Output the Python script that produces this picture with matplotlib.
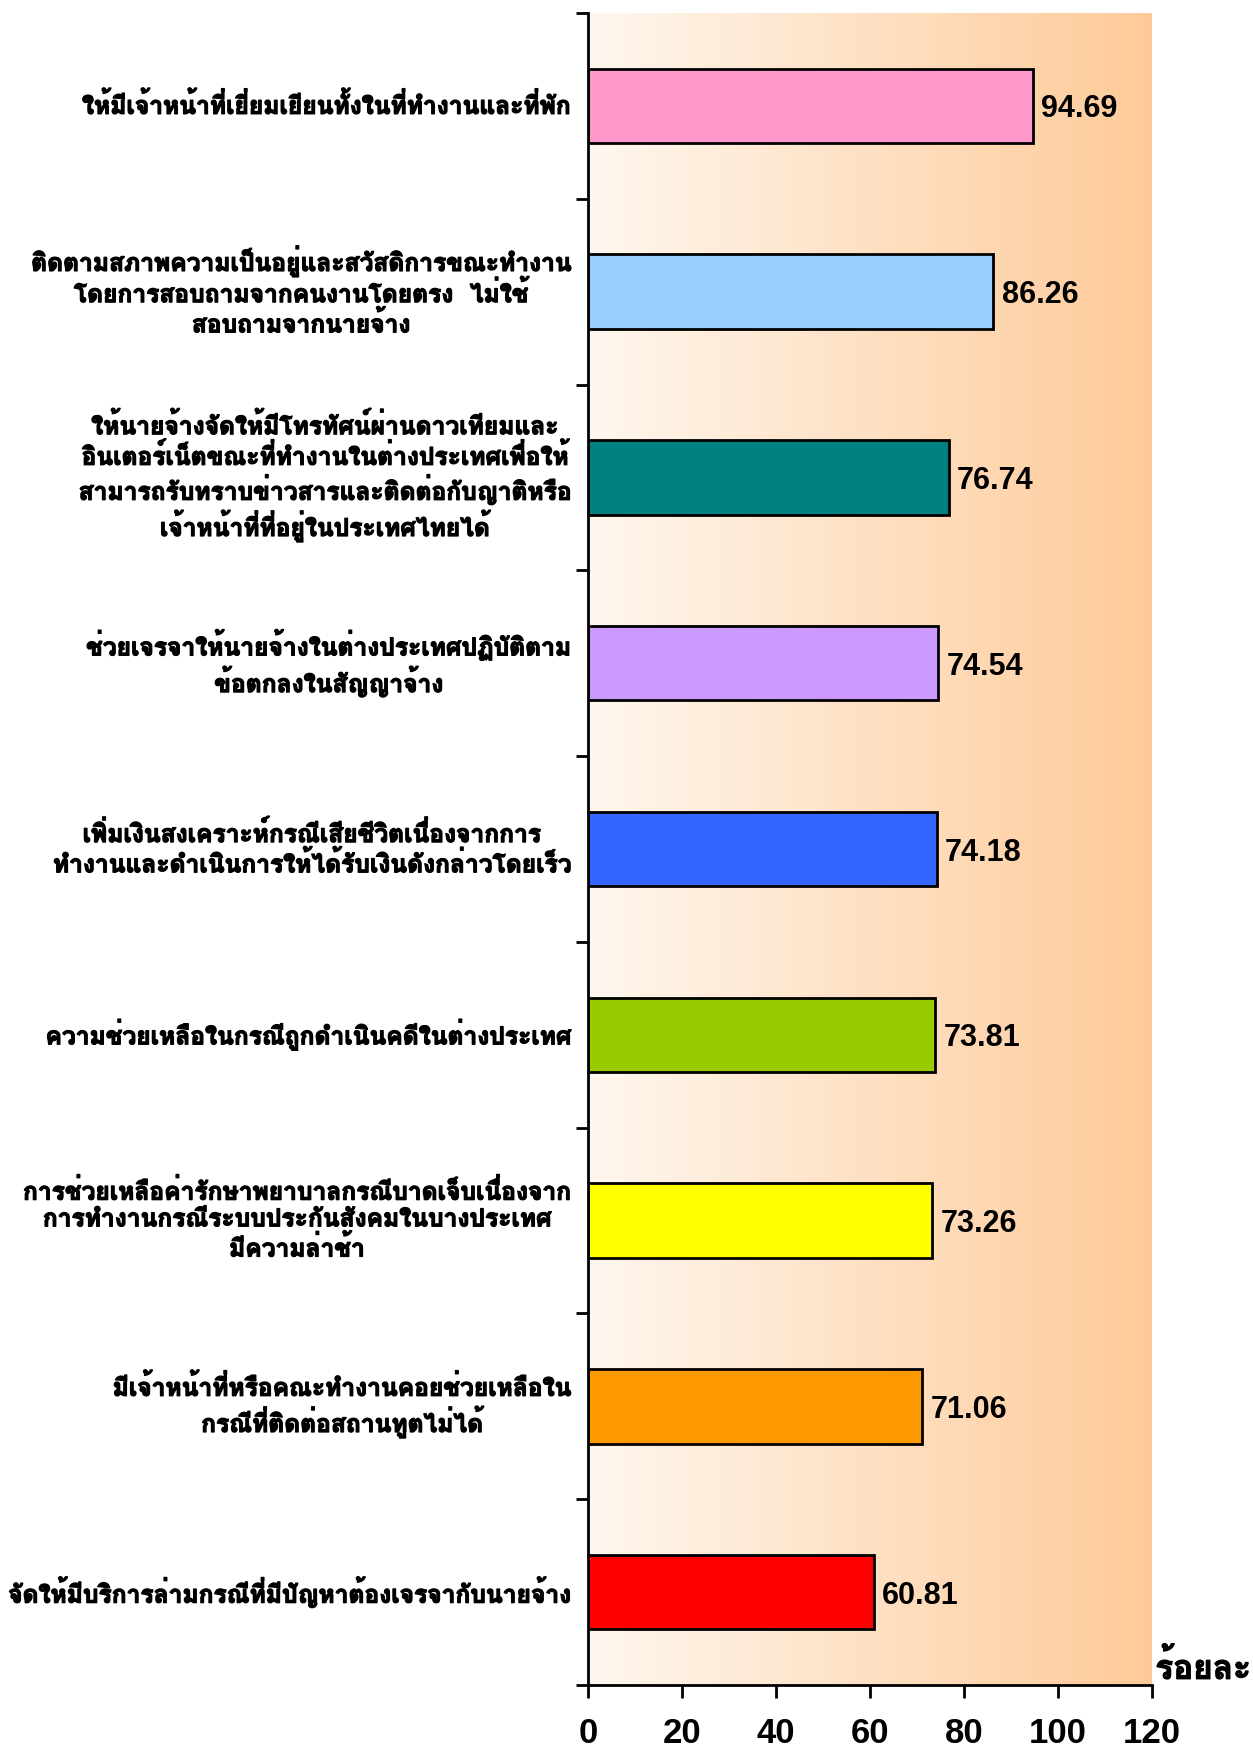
import numpy as np
import matplotlib
matplotlib.use("Agg")
import matplotlib.pyplot as plt
import matplotlib.patheffects as pe

categories = [
    "ให้มีเจ้าหน้าที่เยี่ยมเยียนทั้งในที่ทำงานและที่พัก",
    "ติดตามสภาพความเป็นอยู่และสวัสดิการขณะทำงาน\nโดยการสอบถามจากคนงานโดยตรง  ไม่ใช้\nสอบถามจากนายจ้าง",
    "ให้นายจ้างจัดให้มีโทรทัศน์ผ่านดาวเทียมและ\nอินเตอร์เน็ตขณะที่ทำงานในต่างประเทศเพื่อให้\nสามารถรับทราบข่าวสารและติดต่อกับญาติหรือ\nเจ้าหน้าที่ที่อยู่ในประเทศไทยได้",
    "ช่วยเจรจาให้นายจ้างในต่างประเทศปฏิบัติตาม\nข้อตกลงในสัญญาจ้าง",
    "เพิ่มเงินสงเคราะห์กรณีเสียชีวิตเนื่องจากการ\nทำงานและดำเนินการให้ได้รับเงินดังกล่าวโดยเร็ว",
    "ความช่วยเหลือในกรณีถูกดำเนินคดีในต่างประเทศ",
    "การช่วยเหลือค่ารักษาพยาบาลกรณีบาดเจ็บเนื่องจาก\nการทำงานกรณีระบบประกันสังคมในบางประเทศ\nมีความล่าช้า",
    "มีเจ้าหน้าที่หรือคณะทำงานคอยช่วยเหลือใน\nกรณีที่ติดต่อสถานทูตไม่ได้",
    "จัดให้มีบริการล่ามกรณีที่มีปัญหาต้องเจรจากับนายจ้าง",
]
values = [94.69, 86.26, 76.74, 74.54, 74.18, 73.81, 73.26, 71.06, 60.81]
bar_colors = ["#FF99CC", "#99CCFF", "#008080", "#CC99FF", "#3366FF",
              "#99CC00", "#FFFF00", "#FF9900", "#FF0000"]
x_ticks = [0, 20, 40, 60, 80, 100, 120]
unit_label = "ร้อยละ"

thai_family = ["Loma", "Sarabun", "DejaVu Sans"]
num_family = ["Liberation Sans Narrow", "Liberation Sans", "DejaVu Sans"]
heavy = [pe.withStroke(linewidth=0.9, foreground="black")]

fig = plt.figure(figsize=(12.53, 17.5), dpi=100)
ax = fig.add_axes([0.4693, 0.0371, 0.4500, 0.9555])

# warm left-to-right gradient behind the bars
grad = np.linspace(0, 1, 256).reshape(1, -1)
c0 = np.array([255, 247, 239]) / 255
c1 = np.array([254, 202, 152]) / 255
img = c0[None, None, :] * (1 - grad[..., None]) + c1[None, None, :] * grad[..., None]
ax.imshow(img, extent=[0, 1, 0, 1], transform=ax.transAxes, aspect="auto", zorder=0)

y = np.arange(len(values))
ax.barh(y, values, height=0.40, color=bar_colors, edgecolor="black",
        linewidth=2, zorder=2)

for yi, v in zip(y, values):
    ax.text(v + 1.8, yi, f"{v:.2f}", va="center_baseline", ha="left", fontsize=22,
            fontweight="bold", family=num_family, zorder=3)

ax.set_xlim(0, 120)
ax.set_ylim(len(values) - 0.5, -0.5)

ax.set_xticks(x_ticks)
ax.set_xticklabels([str(t) for t in x_ticks], fontsize=25, fontweight="bold",
                   family=num_family)
ax.tick_params(axis="x", direction="out", length=9, width=2, pad=14)

ax.set_yticks(np.arange(-0.5, len(values), 1.0))
ax.set_yticklabels([])
ax.tick_params(axis="y", direction="out", length=9, width=2)

for yi, lab in zip(y, categories):
    ax.text(-0.03, yi, lab, transform=ax.get_yaxis_transform(),
            ha="right", va="center", multialignment="center",
            fontsize=17.7, fontweight="bold", family=thai_family,
            linespacing=1.2, path_effects=heavy)

for side in ("top", "right"):
    ax.spines[side].set_visible(False)
for side in ("left", "bottom"):
    ax.spines[side].set_linewidth(2)
    ax.spines[side].set_zorder(4)

fig.text(0.922, 0.0475, unit_label, ha="left", va="center", fontsize=24,
         fontweight="bold", family=thai_family, path_effects=heavy)

fig.savefig("out.png", dpi=100, facecolor="white")
